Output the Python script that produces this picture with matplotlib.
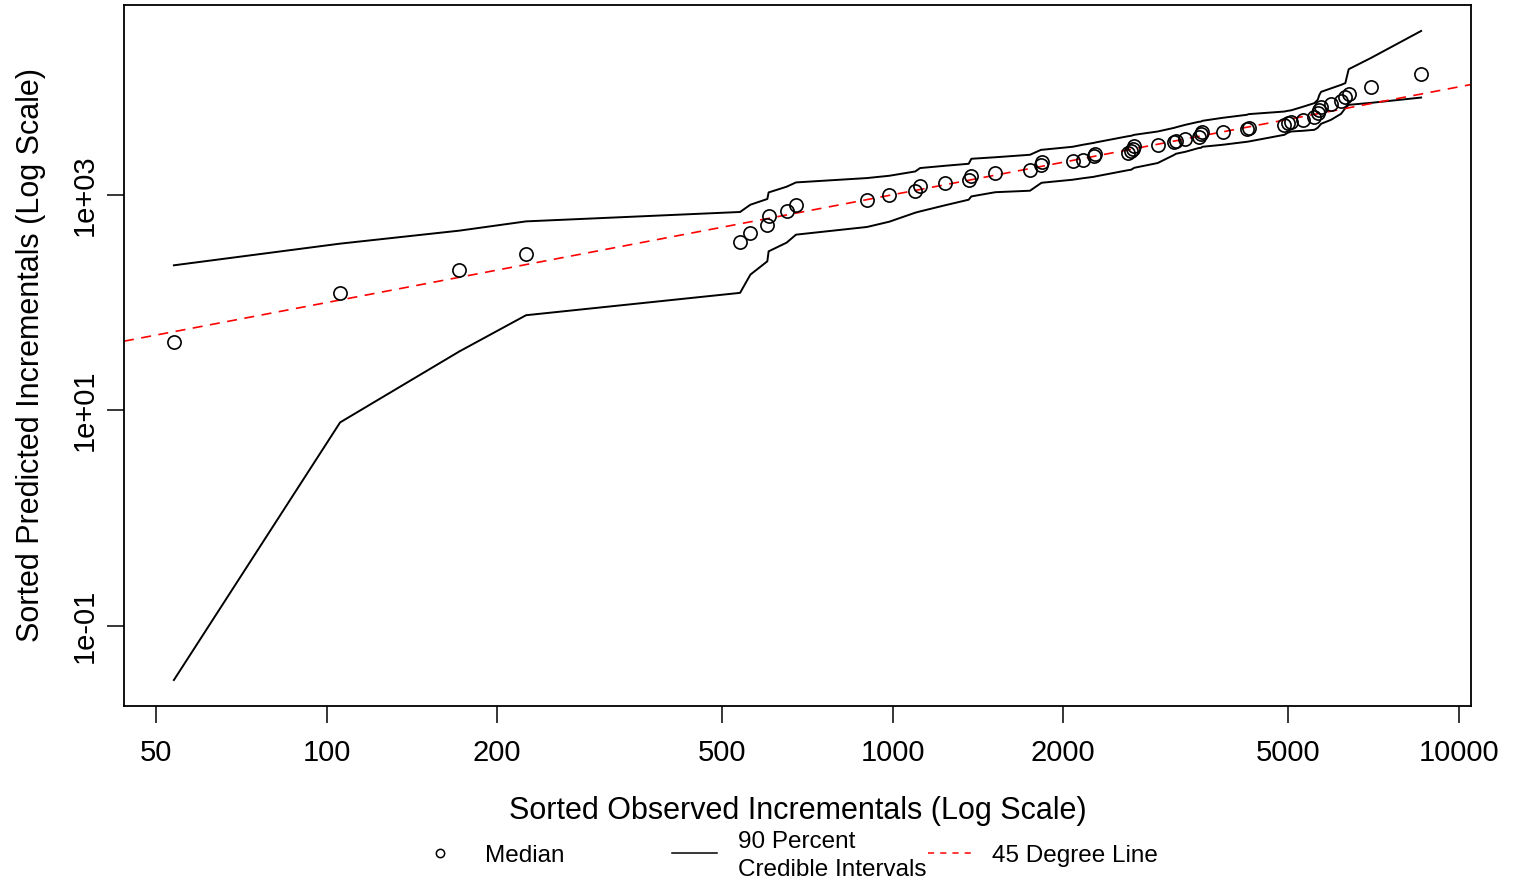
import numpy as np
import matplotlib
matplotlib.use("Agg")
import matplotlib.pyplot as plt
from matplotlib.lines import Line2D

plt.rcParams['font.family'] = ['Liberation Sans', 'DejaVu Sans']

# sorted observed incrementals
observed = [53.7, 105.6, 171.5, 225.0, 537.4, 560.5, 600.4, 603.6, 649.4, 674.7,
            900.8, 986.5, 1096, 1118, 1239, 1362, 1377, 1518, 1748, 1829,
            1836, 2079, 2166, 2271, 2280, 2601, 2637, 2654, 2673, 2938,
            3145, 3164, 3289, 3471, 3506, 3524, 3827, 4220, 4256, 4920,
            4987, 5056, 5300, 5558, 5634, 5673, 5712, 5948, 6195, 6304,
            6391, 7000, 8581]

# median of sorted predicted incrementals
median = [42.9, 123.8, 202.2, 280.1, 361.7, 438.2, 527.6, 629.6, 711.0, 808.0,
          893, 985, 1073, 1212, 1272, 1377, 1499, 1588, 1704, 1896,
          1991, 2034, 2109, 2262, 2381, 2433, 2555, 2667, 2801, 2904,
          3076, 3162, 3279, 3465, 3648, 3790, 3807, 4084, 4199, 4401,
          4592, 4711, 4948, 5242, 5708, 6124, 6529, 6960, 7467, 8028,
          8614, 10064, 13114]

# 90 percent credible interval bounds
upper = [221.5, 351.8, 464.2, 565.9, 691.6, 808, 912.7, 1050, 1186, 1300,
         1427, 1499, 1643, 1767, 1856, 1936, 2154, 2225, 2346, 2610,
         2610, 2783, 2904, 3030, 3050, 3480, 3518, 3555, 3594, 3856,
         4173, 4217, 4448, 4741, 4771, 4843, 5164, 5505, 5588, 5906,
         5995, 6059, 6529, 7065, 7580, 8432, 8990, 9685, 10435, 10821,
         14580, 18560, 32990]

lower = [0.0316, 7.74, 35.2, 76.3, 123.0, 181.7, 241.2, 298.5, 359.3, 426.2,
         502.2, 562.3, 681.3, 700.5, 799.5, 898.9, 964.4, 1055, 1089, 1283,
         1292, 1377, 1421, 1468, 1477, 1686, 1704, 1740, 1778, 1966,
         2346, 2396, 2501, 2707, 2725, 2783, 2904, 3095, 3115, 3594,
         3750, 3856, 3914, 3998, 4173, 4354, 4544, 4948, 5623, 6349,
         6813, 7110, 7960]

legend_labels = ["Median", "90 Percent\nCredible Intervals", "45 Degree Line"]
y_ticks = [0.1, 10, 1000]
y_tick_labels = ["1e-01", "1e+01", "1e+03"]
x_ticks = [50, 100, 200, 500, 1000, 2000, 5000, 10000]

W, H = 1518, 886
fig = plt.figure(figsize=(W / 100, H / 100), dpi=100)
ax = fig.add_axes([124 / W, 1 - 706 / H, (1471 - 124) / W, (706 - 5) / H])

ax.plot(observed, upper, color="black", lw=1.4)
ax.plot(observed, lower, color="black", lw=1.4)
ax.axline((1, 1), (10, 10), color="red", lw=1.2, linestyle=(0, (6, 4.5)))
ax.plot(observed, median, "o", mfc="none", mec="black", ms=9.5, mew=1.2)

ax.set_xscale("log")
ax.set_yscale("log")


def r_range(vals):
    lo, hi = np.log10(min(vals)), np.log10(max(vals))
    d = 0.04 * (hi - lo)
    return 10 ** (lo - d), 10 ** (hi + d)


ax.set_xlim(*r_range(observed))
ax.set_ylim(*r_range(lower + upper + median))

ax.set_xticks(x_ticks)
ax.set_xticklabels([str(v) for v in x_ticks])
ax.xaxis.set_minor_locator(matplotlib.ticker.NullLocator())
ax.set_yticks(y_ticks)
ax.set_yticklabels(y_tick_labels, rotation=90, va="center")
ax.yaxis.set_minor_locator(matplotlib.ticker.NullLocator())

ax.tick_params(axis="both", direction="out", length=12, width=1.1, labelsize=21)
ax.tick_params(axis="x", pad=12)
ax.tick_params(axis="y", pad=6)
for s in ax.spines.values():
    s.set_linewidth(1.3)

ax.set_xlabel("Sorted Observed Incrementals (Log Scale)", fontsize=22, labelpad=21)
ax.set_ylabel("Sorted Predicted Incrementals (Log Scale)", fontsize=22, labelpad=18)

# legend below the plot, laid out like the R legend
lax = fig.add_axes([0, 0, 1, 1], facecolor="none")
lax.set_xlim(0, W)
lax.set_ylim(H, 0)
lax.axis("off")
lax.add_line(Line2D([440], [853], marker="o", mfc="none", mec="black", ms=6, mew=1.1))
lax.add_line(Line2D([672, 717], [853, 853], color="black", lw=1.1))
lax.add_line(Line2D([928, 972], [853, 853], color="red", lw=1.1, linestyle=(0, (4, 4))))
for xpos, lab in zip([485, 738, 992], legend_labels):
    lax.text(xpos, 856, lab, fontsize=17.5, ha="left", va="center", linespacing=1.3)

fig.savefig("out.png", dpi=100)
